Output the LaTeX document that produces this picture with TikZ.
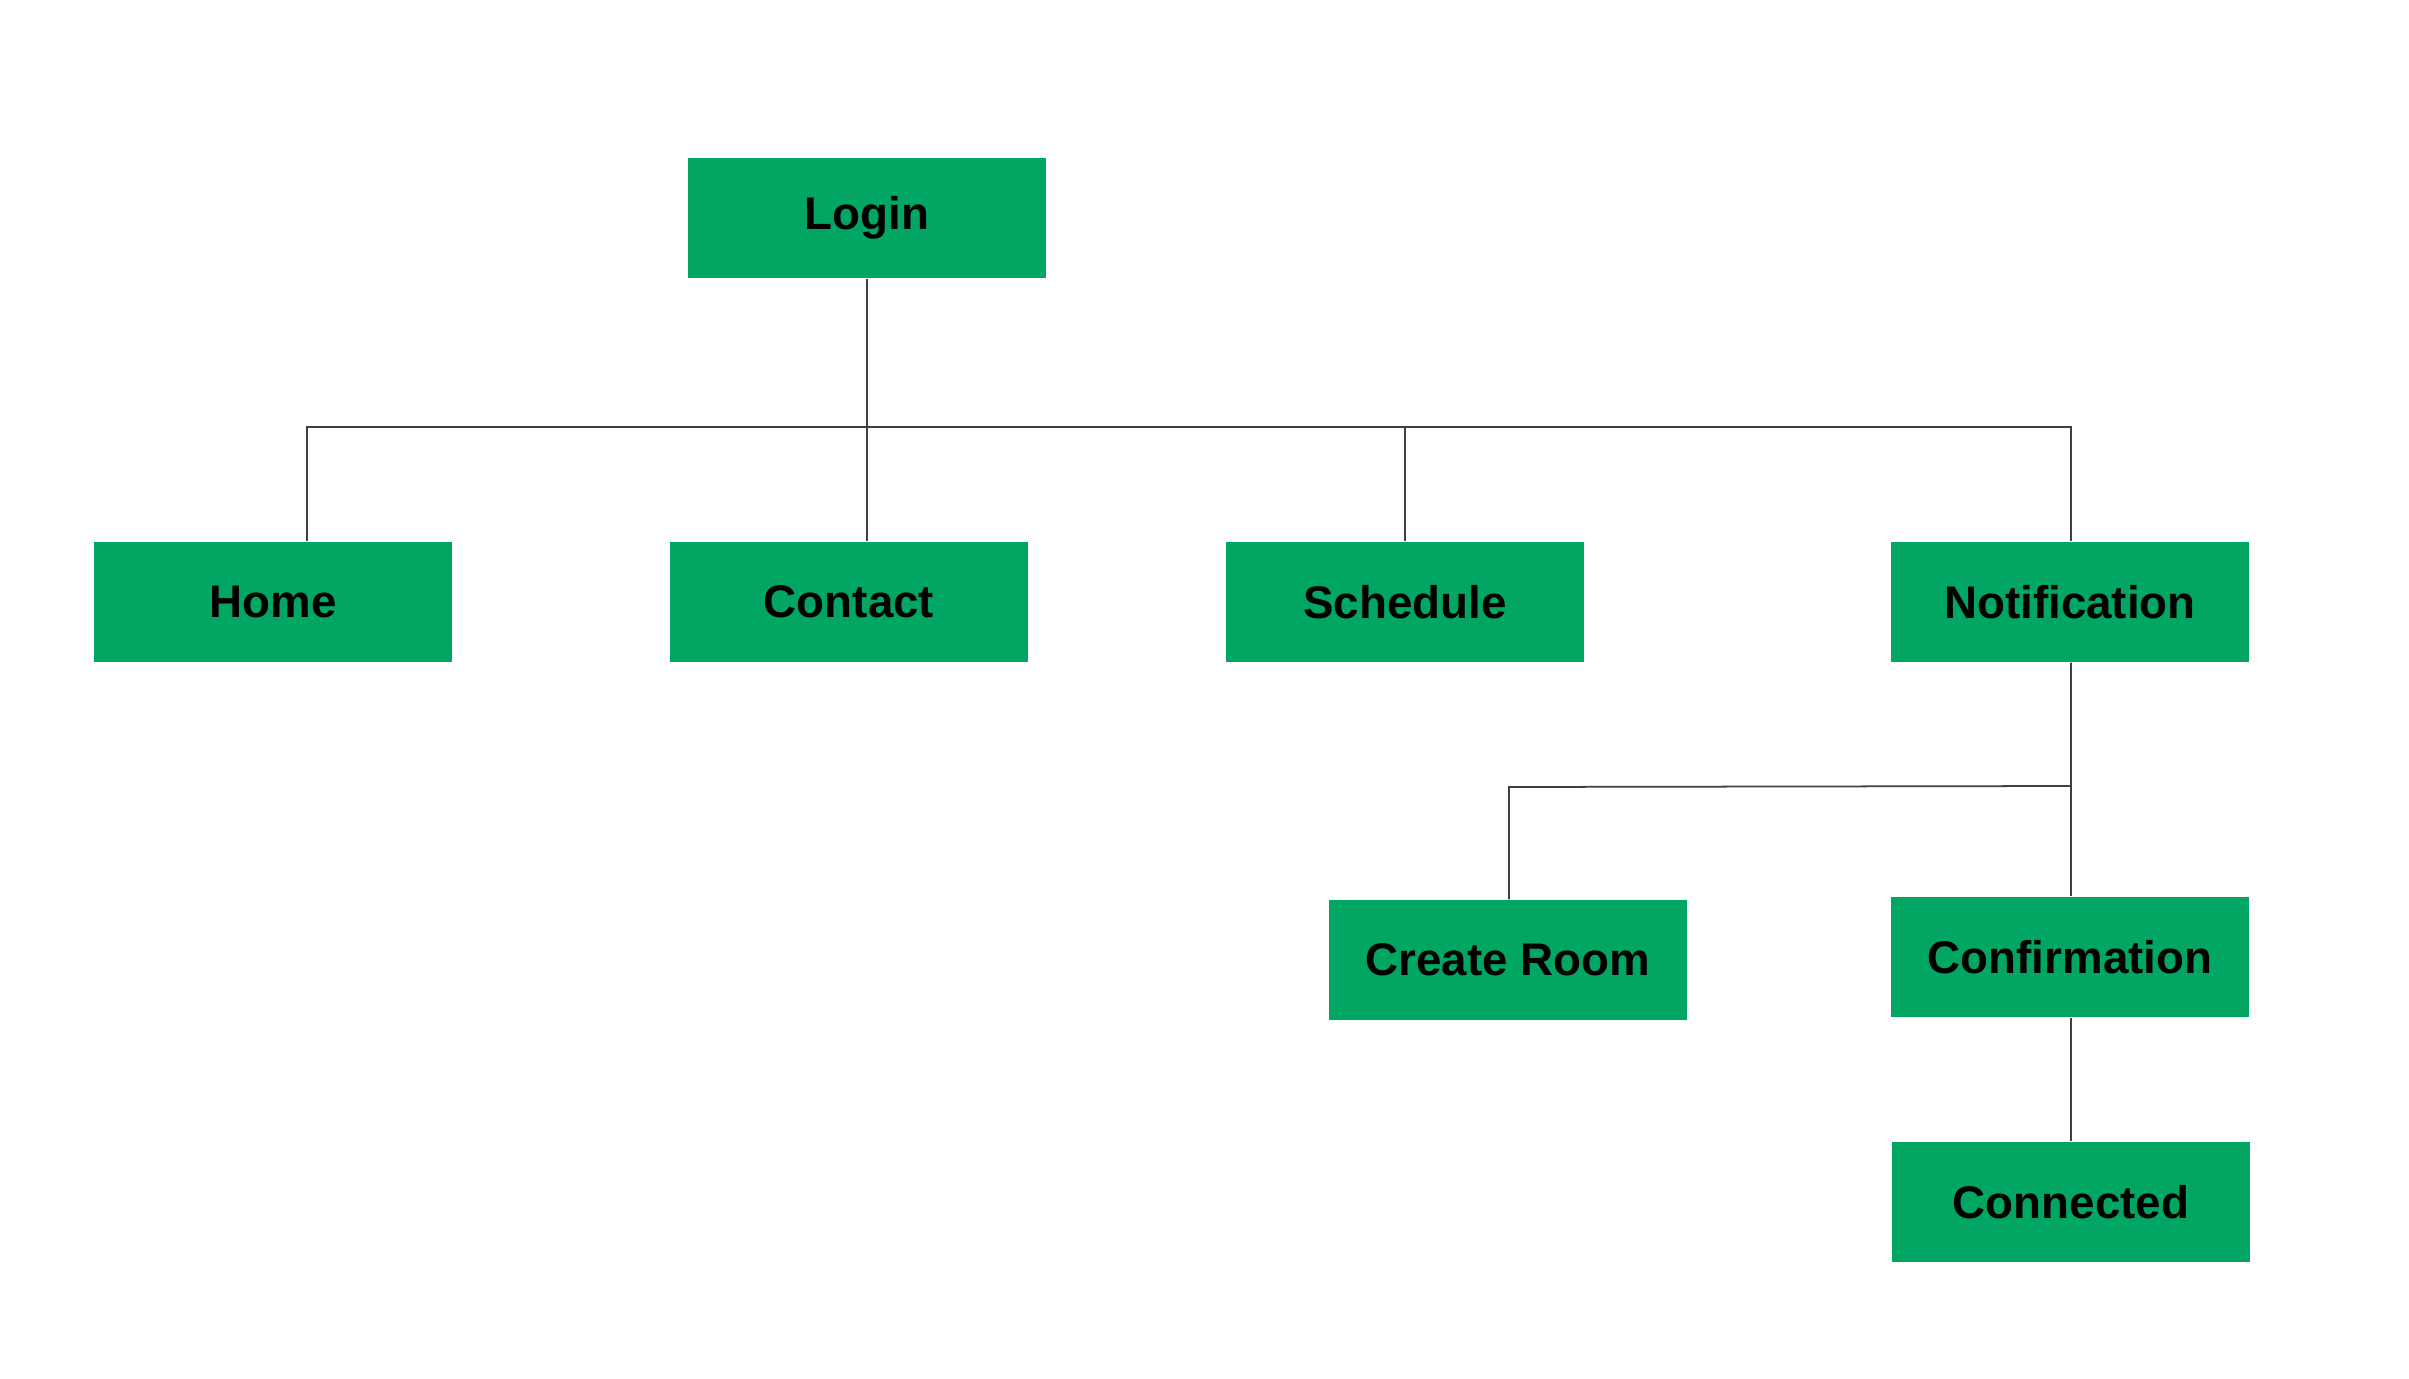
\documentclass[tikz,border=0pt]{standalone}
\usepackage{fontspec}
\setmainfont{Liberation Sans}
\definecolor{boxgreen}{HTML}{00A661}
\begin{document}
\begin{tikzpicture}[x=0.01cm,y=-0.01cm,
  page/.style={fill=boxgreen, minimum width=3.58cm, minimum height=1.2cm,
    inner sep=0pt, font=\fontsize{13}{16}\selectfont\bfseries},
  link/.style={draw=black!75, line width=0.5pt}]
\useasboundingbox (0,0) rectangle (2409,1379);
% pages
\node[page] (login) at (867,218) {Login};
\node[page] (home) at (273,602) {Home};
\node[page] (contact) at (849,602) {Contact};
\node[page] (schedule) at (1405,602) {Schedule};
\node[page] (notif) at (2070,602) {Notification};
\node[page] (room) at (1508,960) {Create Room};
\node[page] (confirm) at (2070,957) {Confirmation};
\node[page] (connected) at (2071,1202) {Connected};
% bus ends
\coordinate (busl) at (307,427);
\coordinate (busr) at (2071,427);
\coordinate (subl) at (1509,787);
\coordinate (subr) at (2071,786);
% links
\draw[link] (login) -- (login |- contact.north);
\draw[link] (home.north -| busl) -- (busl) -- (busr) -- (notif.north -| busr);
\draw[link] (schedule.north) -- (schedule.north |- busl);
\draw[link] (notif.south -| subr) -- (subr) -- (subl) -- (subl |- room.north);
\draw[link] (subr) -- (confirm.north -| subr);
\draw[link] (confirm.south -| subr) -- (connected.north -| subr);
\end{tikzpicture}
\end{document}
